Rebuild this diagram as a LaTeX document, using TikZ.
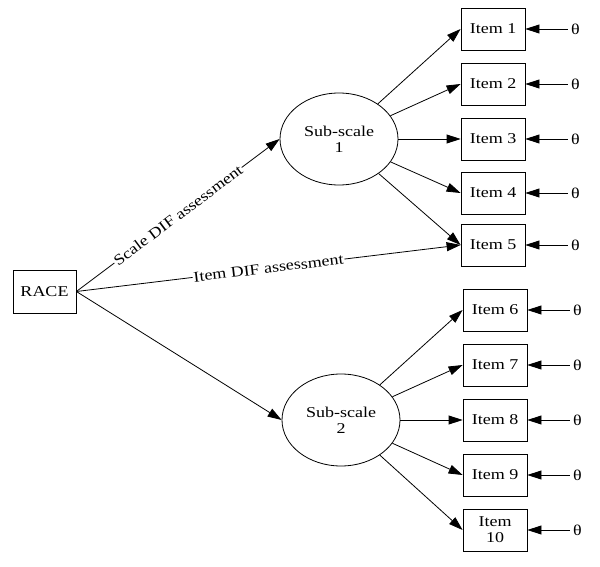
\documentclass[tikz,border=0pt]{standalone}
\usepackage{fontspec}
\setmainfont{Liberation Serif}[FakeStretch=1.2]
\usetikzlibrary{arrows.meta,shapes.geometric}

\begin{document}
\begin{tikzpicture}[x=1pt, y=1pt,
        every node/.style={font=\fontsize{15}{16}\selectfont},
        itembox/.style={draw, line width=0.8pt, minimum width=64pt, minimum height=42pt, align=center, inner sep=1pt},
        latent/.style={draw, ellipse, line width=0.8pt, minimum width=118pt, minimum height=92pt, align=center},
        err/.style={inner sep=3pt},
        arr/.style={line width=0.8pt, -{Triangle[length=14pt, width=9pt]}},
        lab/.style={sloped, fill=white, inner sep=1pt}]
            \useasboundingbox (0, 0) rectangle (600, 566);
            % observed and latent variables
            \node[itembox, minimum width=63pt, minimum height=43pt] (race) at (44.5, 274.5) {RACE};
            \node[latent] (sub1) at (339, 427) {Sub-scale\\1};
            \node[latent] (sub2) at (341, 146) {Sub-scale\\2};
            \foreach \i/\y in {1/537, 2/482, 3/427, 4/373, 5/321} {
                \node[itembox] (item\i) at (493, \y) {Item \i};
            }
            \foreach \i/\y in {6/256, 7/201, 8/146, 9/91} {
                \node[itembox] (item\i) at (495, \y) {Item \i};
            }
            \node[itembox] (item10) at (495, 36) {Item\\10};
            % error terms
            \foreach \i in {1,...,10} {
                \path (item\i.east) ++(50, 0) node[err] (t\i) {θ};
                \draw[arr] (t\i) -- (item\i.east);
            }
            % paths
            \draw[arr] (race.east) -- node[lab] {Scale DIF assessment} (sub1.west);
            \draw[arr] (race.east) -- node[lab, pos=0.5] {Item DIF assessment} (item5.west);
            \draw[arr] (race.east) -- (sub2.west);
            \foreach \i in {1,...,5} {
                \draw[arr] (sub1) -- (item\i.west);
            }
            \foreach \i in {6,...,10} {
                \draw[arr] (sub2) -- (item\i.west);
            }
        \end{tikzpicture}
\end{document}
